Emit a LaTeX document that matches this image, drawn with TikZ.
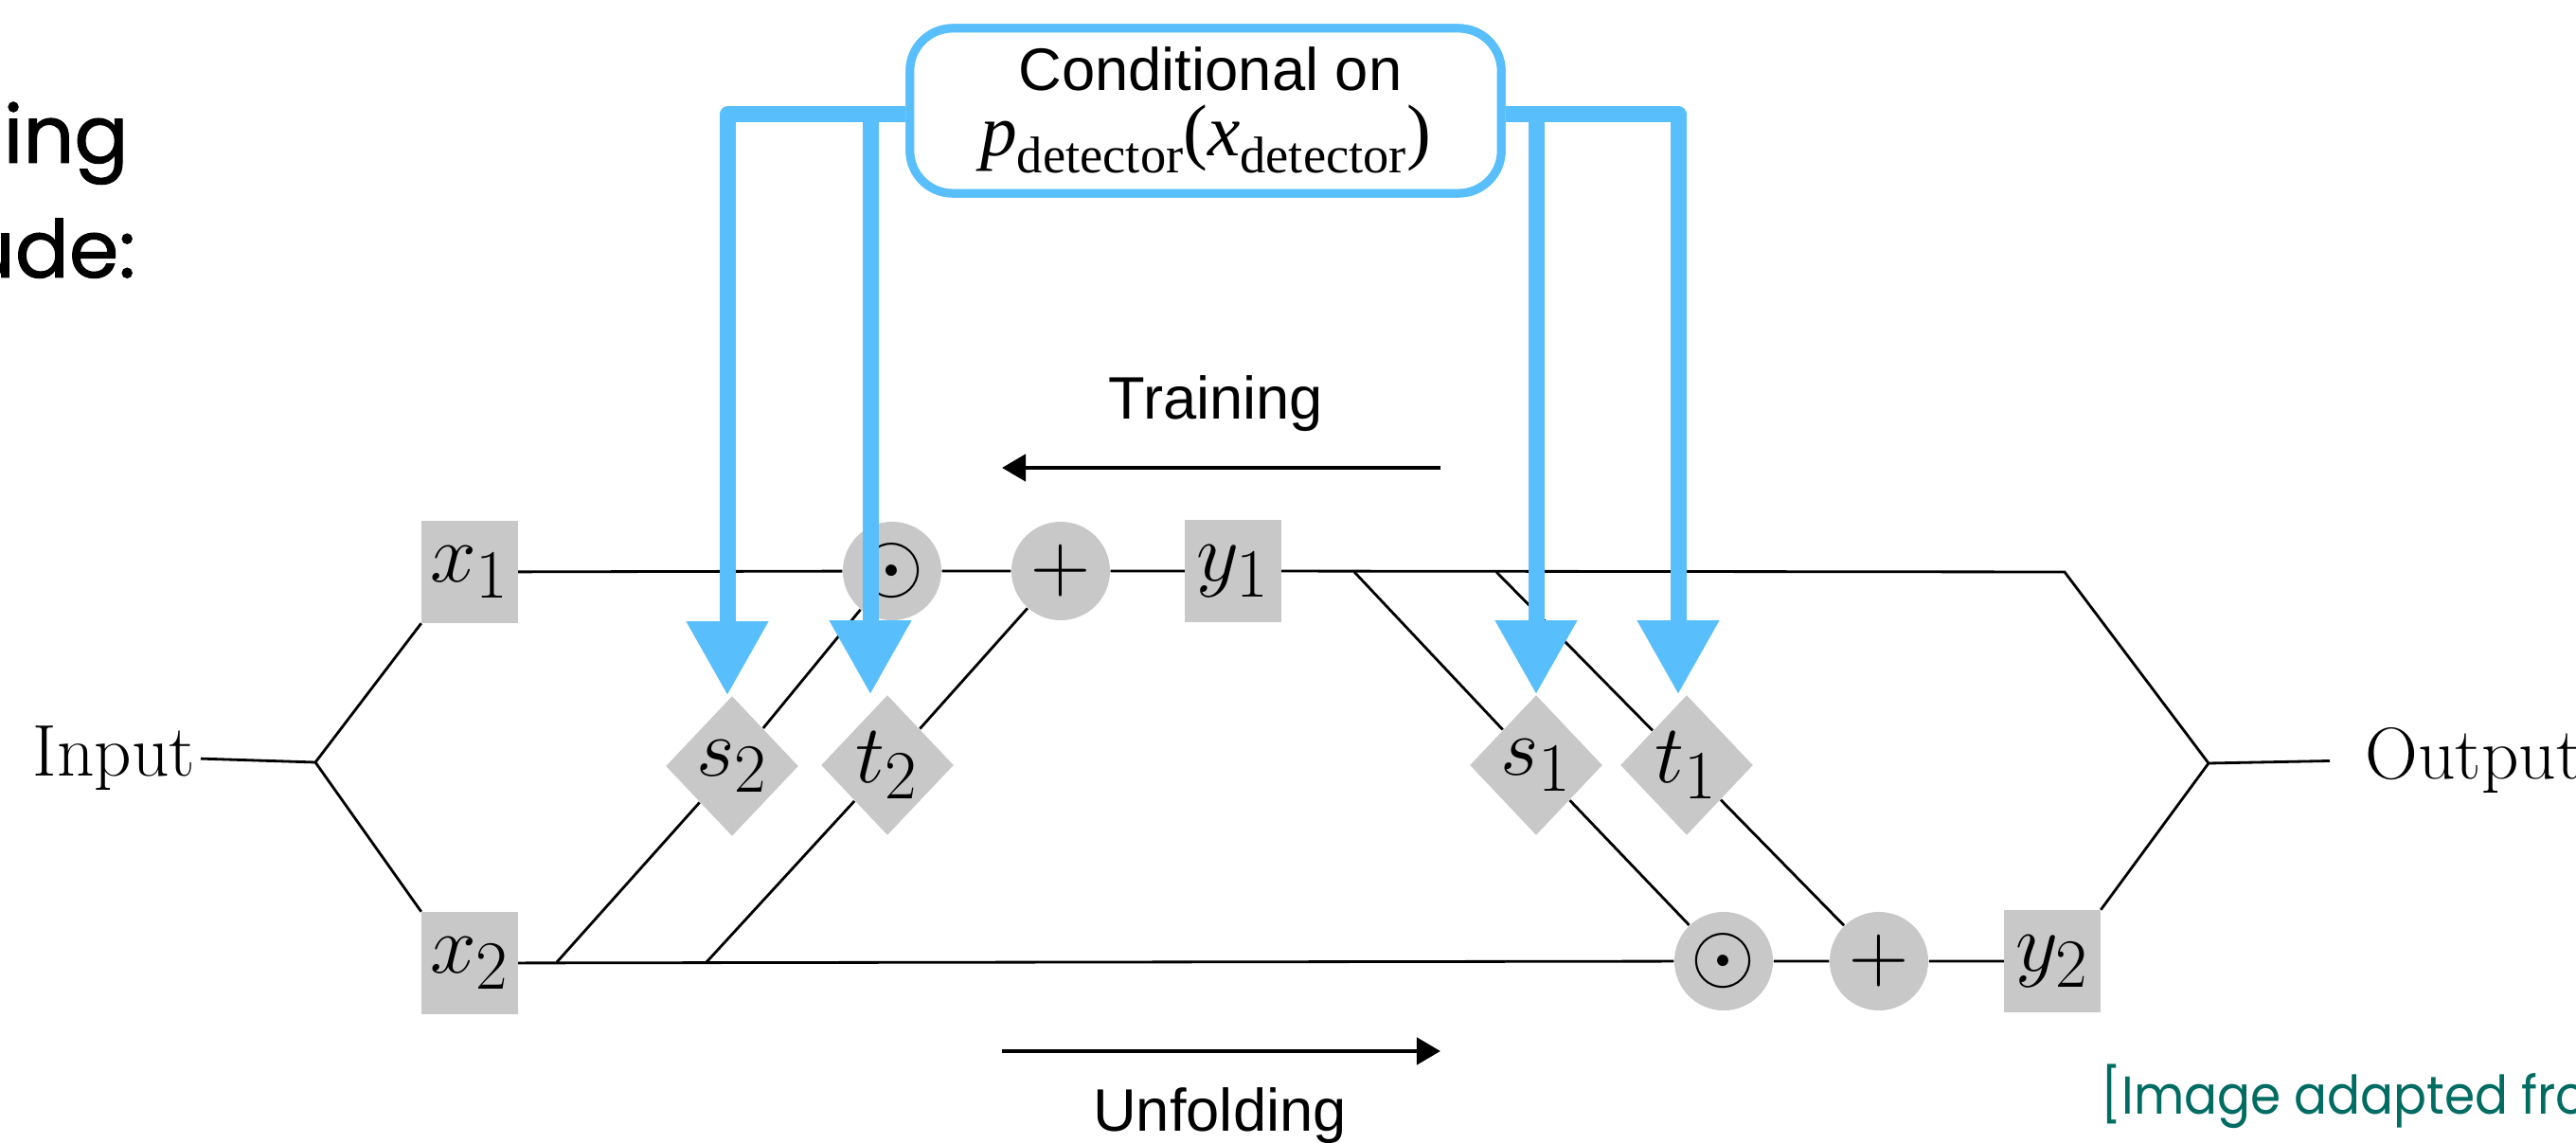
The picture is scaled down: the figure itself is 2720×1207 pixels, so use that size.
\documentclass[tikz,border=0pt]{standalone}
\usepackage{fontspec}
\usetikzlibrary{shapes.geometric,arrows.meta}
\newfontfamily\arialf{Liberation Sans}
\newfontfamily\timesf{Liberation Serif}
\newfontfamily\futf[FakeBold=1.2]{Poppins}
\newfontfamily\futsrc{Poppins}
\definecolor{skyb}{RGB}{88,190,252}
\definecolor{nodegray}{RGB}{200,200,200}
\definecolor{tealtxt}{RGB}{0,108,98}
\newcommand{\detsub}{\raisebox{-5pt}{\fontsize{15.5}{16}\selectfont detector}}
\begin{document}
\begin{tikzpicture}[x=0.01cm,y=-0.01cm,
  mathfont/.style={font=\fontsize{24.88}{30}\selectfont},
  sq/.style={rectangle, fill=nodegray, minimum width=1.01cm, minimum height=1.07cm, inner sep=0pt, mathfont},
  circ/.style={circle, fill=nodegray, minimum size=1.04cm, inner sep=0pt, mathfont},
  dia/.style={diamond, fill=nodegray, minimum width=1.40cm, minimum height=1.48cm, inner sep=0pt, mathfont},
  wire/.style={line width=0.8pt, black},
  flow/.style={line width=1.3pt, black, -{Triangle[length=0.25cm,width=0.28cm]}},
  bluearrow/.style={draw=skyb, line width=0.17cm, line join=round, -{Triangle[length=0.78cm,width=0.82cm]}},
  condbox/.style={draw=skyb, fill=white, line width=0.09cm, rounded corners=0.45cm, minimum width=6.24cm, minimum height=1.74cm, inner sep=0pt},
  sanslabel/.style={font=\arialf\fontsize{18}{22}\selectfont, inner sep=0pt},
  cmlabel/.style={font=\fontsize{22}{26}\selectfont, inner sep=0pt}
]
\useasboundingbox (0,0) rectangle (2720,1207);

% side texts
\node[anchor=base west, inner sep=0pt, font=\futf\fontsize{24}{28}\selectfont] (ing) at (3,172) {ing};
\node[anchor=base east, inner sep=0pt, font=\futf\fontsize{24}{28}\selectfont] (ude) at (144,293) {ude:};
\node[anchor=base west, inner sep=0pt, text=tealtxt, font=\futsrc\fontsize{16}{20}\selectfont] (src) at (2218,1177) {\scalebox{0.92}[1]{[Image adapted fro}};

% circuit nodes
\node[sq] (x1) at (496,604) {$x_1$};
\node[sq] (x2) at (496,1017) {$x_2$};
\node[circ] (m1) at (942,603) {$\odot$};
\node[circ] (a1) at (1120,603) {$+$};
\node[sq] (y1) at (1302,603) {$y_1$};
\node[dia] (s2) at (773,809) {$s_2$};
\node[dia] (t2) at (937,808) {$t_2$};
\node[dia] (s1) at (1622,808) {$s_1$};
\node[dia] (t1) at (1781,808) {$t_1$};
\node[circ] (m2) at (1820,1015) {$\odot$};
\node[circ] (a2) at (1984,1015) {$+$};
\node[sq] (y2) at (2167,1015) {$y_2$};
\node[cmlabel, anchor=base east] (in) at (207,820) {Input};
\node[cmlabel, anchor=base west] (out) at (2497,823) {Output};

\coordinate (fl) at (333,805);
\coordinate (fr) at (2332,806);
\coordinate (topend) at (2180,604);
\coordinate (b2) at (588,1016);
\coordinate (b3) at (746,1016);
\coordinate (c1) at (1430,604);
\coordinate (c2) at (1580,604);

% wires
\draw[wire] ([xshift=0.05cm]in.east) -- (fl);
\draw[wire] (fl) -- (x1.south west);
\draw[wire] (fl) -- (x2.north west);
\draw[wire] (x1) -- (m1) -- (a1) -- (y1);
\draw[wire] (y1) -- (topend) -- (fr);
\draw[wire] (x2) -- (m2) -- (a2) -- (y2);
\draw[wire] (y2.north east) -- (fr);
\draw[wire] (fr) -- ([xshift=-0.37cm]out.west);
\draw[wire] (b2) -- (s2) -- (m1);
\draw[wire] (b3) -- (t2) -- (a1);
\draw[wire] (c1) -- (s1) -- (m2);
\draw[wire] (c2) -- (t1) -- (a2);

% training / unfolding
\coordinate (tr1) at (1521,494);
\coordinate (tr2) at (1058,494);
\coordinate (un1) at (1058,1110);
\coordinate (un2) at (1521,1110);
\draw[flow] (tr1) -- (tr2);
\draw[flow] (un1) -- (un2);
\node[sanslabel, anchor=base] (train) at (1284,443) {Training};
\node[sanslabel, anchor=base] (unf) at (1288,1195) {Unfolding};

% conditioning box and blue arrows
\coordinate (ls2) at (768,121);
\coordinate (lt2) at (919,121);
\coordinate (rs1) at (1622,121);
\coordinate (rt1) at (1772,121);
\node[condbox] (cond) at (1273,117) {};
\draw[bluearrow] (ls2 -| cond.west) -- (ls2) -- (ls2 |- s2.north);
\draw[bluearrow] (lt2) -- (lt2 |- t2.north);
\draw[bluearrow] (rt1 -| cond.east) -- (rt1) -- (rt1 |- t1.north);
\draw[bluearrow] (rs1) -- (rs1 |- s1.north);
\node[condbox] (condfg) at (cond) {};
\node[sanslabel, anchor=base] (condtxt) at (1278,96) {Conditional on};
\node[anchor=base, inner sep=0pt, font=\timesf\fontsize{22}{26}\selectfont] (pdet) at (1273,165) {\textit{p}\detsub(\textit{x}\detsub)};
\end{tikzpicture}
\end{document}
